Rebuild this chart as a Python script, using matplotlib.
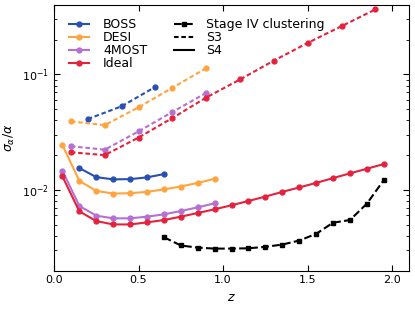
import matplotlib
matplotlib.use("Agg")
from matplotlib import pyplot as plt
from matplotlib.lines import Line2D

# S4 surveys, z bins of 0.1
z_ideal_s4 = [0.05, 0.15, 0.25, 0.35, 0.45, 0.55, 0.65, 0.75, 0.85, 0.95,
              1.05, 1.15, 1.25, 1.35, 1.45, 1.55, 1.65, 1.75, 1.85, 1.95]
ideal_s4 = [0.0131, 0.00652, 0.00537, 0.00502, 0.00502, 0.00523, 0.00548,
            0.00586, 0.00631, 0.00679, 0.00736, 0.00802, 0.00875, 0.00961,
            0.0105, 0.0115, 0.01265, 0.0139, 0.01525, 0.01675]

z_4most_s4 = [0.05, 0.15, 0.25, 0.35, 0.45, 0.55, 0.65, 0.75, 0.85, 0.95]
fourmost_s4 = [0.01466, 0.00726, 0.00598, 0.00567, 0.00567, 0.00586, 0.00614,
               0.00656, 0.00706, 0.00765]

z_desi_s4 = [0.05, 0.15, 0.25, 0.35, 0.45, 0.55, 0.65, 0.75, 0.85, 0.95]
desi_s4 = [0.0245, 0.01197, 0.0098, 0.0093, 0.00936, 0.00961, 0.0101,
           0.0107, 0.0115, 0.01248]

z_boss_s4 = [0.15, 0.25, 0.35, 0.45, 0.55, 0.65]
boss_s4 = [0.01546, 0.01291, 0.01233, 0.0124, 0.01283, 0.01371]

# S3 surveys, z bins of 0.2
z_boss_s3 = [0.2, 0.4, 0.6]
boss_s3 = [0.0411, 0.053, 0.0782]

z_desi_s3 = [0.1, 0.3, 0.5, 0.7, 0.9]
desi_s3 = [0.0392, 0.0364, 0.0519, 0.0766, 0.1135]

z_4most_s3 = [0.1, 0.3, 0.5, 0.7, 0.9]
fourmost_s3 = [0.0239, 0.0223, 0.0321, 0.0473, 0.0692]

z_ideal_s3 = [0.1, 0.3, 0.5, 0.7, 0.9, 1.1, 1.3, 1.5, 1.7, 1.9]
ideal_s3 = [0.0212, 0.02, 0.0284, 0.0419, 0.0631, 0.0905, 0.1318, 0.1876,
            0.262, 0.366]

# Stage IV clustering
z_stage4 = [0.65, 0.75, 0.85, 0.95, 1.05, 1.15, 1.25, 1.35, 1.45, 1.55,
            1.65, 1.75, 1.85, 1.95]
stage4 = [0.00389, 0.0033, 0.00316, 0.0031, 0.0031, 0.00312, 0.00321,
          0.00336, 0.00364, 0.00416, 0.0052, 0.00548, 0.0076, 0.01217]

c_boss = "#2a4fb2"
c_desi = "#ffa53f"
c_4most = "#b470d4"
c_ideal = "#e5213e"

s3 = (0, (2.2, 1.3))
ms = 3.5
lw = 1.5

fig = plt.figure(figsize=(4.15, 3.11), dpi=100)
ax = fig.add_axes([0.130, 0.130, 0.856, 0.854])

ax.plot(z_boss_s3, boss_s3, color=c_boss, ls=s3, marker="o", ms=ms, lw=lw)
ax.plot(z_desi_s3, desi_s3, color=c_desi, ls=s3, marker="o", ms=ms, lw=lw)
ax.plot(z_4most_s3, fourmost_s3, color=c_4most, ls=s3, marker="o", ms=ms, lw=lw)
ax.plot(z_ideal_s3, ideal_s3, color=c_ideal, ls=s3, marker="o", ms=ms, lw=lw)

ax.plot(z_boss_s4, boss_s4, color=c_boss, marker="o", ms=ms, lw=lw)
ax.plot(z_desi_s4, desi_s4, color=c_desi, marker="o", ms=ms, lw=lw)
ax.plot(z_4most_s4, fourmost_s4, color=c_4most, marker="o", ms=ms, lw=lw)
ax.plot(z_ideal_s4, ideal_s4, color=c_ideal, marker="o", ms=ms, lw=lw)

ax.plot(z_stage4, stage4, color="k", ls="--", marker="s", ms=ms, lw=lw)

ax.set_yscale("log")
ax.set_xlim(0, 2.1)
ax.set_ylim(0.002, 0.4)
ax.set_xticks([0.0, 0.5, 1.0, 1.5, 2.0])
ax.set_xlabel("$z$", fontsize=9)
ax.set_ylabel(r"$\sigma_\alpha/\alpha$", fontsize=9)
ax.tick_params(which="both", direction="in", top=True, right=True, labelsize=8)
ax.tick_params(which="major", length=4)
ax.tick_params(which="minor", length=2.5)
ax.tick_params(axis="x", which="minor", top=False, bottom=False)

h1 = [Line2D([], [], color=c, marker="o", ms=ms, lw=lw)
      for c in [c_boss, c_desi, c_4most, c_ideal]]
leg1 = ax.legend(h1, ["BOSS", "DESI", "4MOST", "Ideal"], loc="upper left",
                 frameon=False, fontsize=9, handlelength=1.6,
                 handletextpad=1.1, labelspacing=0.0,
                 bbox_to_anchor=(0.012, 0.992))
ax.add_artist(leg1)

h2 = [Line2D([], [], color="k", ls="--", marker="s", ms=ms, lw=lw),
      Line2D([], [], color="k", ls=s3, lw=lw),
      Line2D([], [], color="k", lw=lw)]
ax.legend(h2, ["Stage IV clustering", "S3", "S4"], loc="upper left",
          frameon=False, fontsize=9, handlelength=1.6, handletextpad=1.0,
          labelspacing=0.0, bbox_to_anchor=(0.306, 0.992))

fig.savefig("out.png", dpi=100)
